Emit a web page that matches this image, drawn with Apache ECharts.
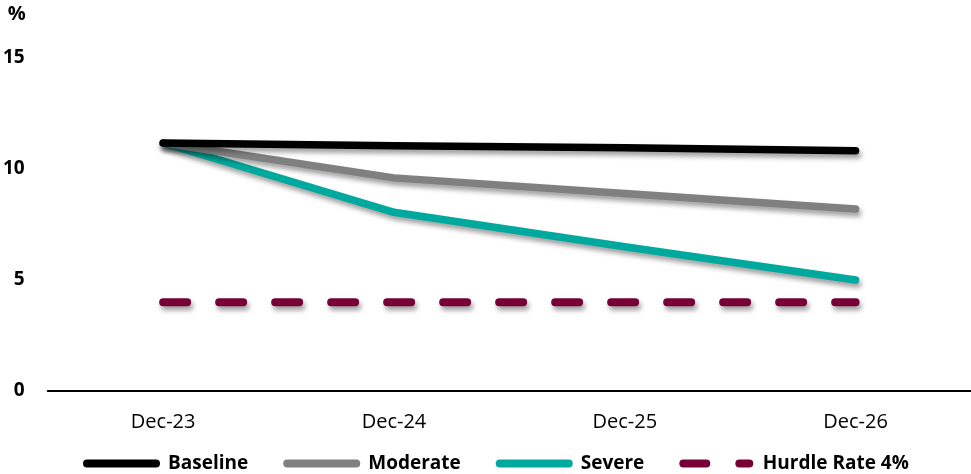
<!DOCTYPE html>
<html>
<head>
<meta charset="utf-8">
<script src="https://cdn.jsdelivr.net/npm/echarts@6/dist/echarts.min.js"></script>
<style>
  html, body { margin: 0; padding: 0; background: #ffffff; }
  #chart { width: 971px; height: 474px; }
</style>
</head>
<body>
<div id="chart"></div>
<script>
// Scenario projections, % by period end
const categories = ['Dec-23', 'Dec-24', 'Dec-25', 'Dec-26'];
const baseline = [11.17, 11.05, 10.96, 10.82];
const moderate = [11.17, 9.6, 8.9, 8.2];
const severe = [11.17, 8.05, 6.5, 5.0];
const hurdle = [4, 4, 4, 4];
const yTicks = [0, 5, 10, 15];

const FONT = '"Open Sans", "Noto Sans", sans-serif';
const shadow = {
  shadowColor: 'rgba(0,0,0,0.38)',
  shadowBlur: 5,
  shadowOffsetX: 2,
  shadowOffsetY: 4
};

const solidIcon = 'path://M4,0H73A4,4 0 0 1 73,8H4A4,4 0 0 1 4,0Z';
const dashIcon = 'path://M4,0H27A4,4 0 0 1 27,8H4A4,4 0 0 1 4,0Z M60,0H70A4,4 0 0 1 70,8H60A4,4 0 0 1 60,0Z';

function lineSeries(name, data, color, extra) {
  return Object.assign({
    name: name,
    type: 'line',
    data: data,
    symbol: 'none',
    smooth: false,
    itemStyle: { color: color },
    lineStyle: Object.assign({ color: color, width: 7.5, cap: 'round', join: 'round' }, shadow)
  }, extra || {});
}

const chart = echarts.init(document.getElementById('chart'), null, { renderer: 'canvas' });
chart.setOption({
  animation: false,
  backgroundColor: '#ffffff',
  grid: { left: 47, right: 0, top: 58, bottom: 83 },
  legend: {
    left: 78,
    top: 449,
    itemWidth: 77,
    itemHeight: 8,
    itemGap: 35,
    textStyle: { fontFamily: FONT, fontSize: 19, fontWeight: 'bold', color: '#000', padding: [0, 0, 0, 3] },
    data: [
      { name: 'Baseline', icon: solidIcon },
      { name: 'Moderate', icon: solidIcon },
      { name: 'Severe', icon: solidIcon },
      { name: 'Hurdle Rate 4%', icon: dashIcon }
    ]
  },
  xAxis: {
    type: 'category',
    data: categories,
    boundaryGap: true,
    axisLine: { lineStyle: { color: '#000', width: 2 } },
    axisTick: { show: false },
    axisLabel: { fontFamily: FONT, fontSize: 20, color: '#000', margin: 21 }
  },
  yAxis: {
    type: 'value',
    min: yTicks[0],
    max: yTicks[yTicks.length - 1],
    interval: 5,
    name: '%',
    nameLocation: 'end',
    nameGap: 34,
    nameTextStyle: { fontFamily: FONT, fontSize: 20, fontWeight: 'bold', color: '#000', align: 'right', padding: [0, 22, 0, 0] },
    axisLine: { show: false },
    axisTick: { show: false },
    splitLine: { show: false },
    axisLabel: { fontFamily: FONT, fontSize: 19, fontWeight: 'bold', color: '#000', margin: 23 }
  },
  series: [
    lineSeries('Hurdle Rate 4%', hurdle, '#770036', {
      lineStyle: Object.assign({ color: '#770036', width: 8, cap: 'round', type: [24, 32] }, shadow)
    }),
    lineSeries('Severe', severe, '#00A99D'),
    lineSeries('Moderate', moderate, '#808080'),
    lineSeries('Baseline', baseline, '#000000')
  ]
});
</script>
</body>
</html>
